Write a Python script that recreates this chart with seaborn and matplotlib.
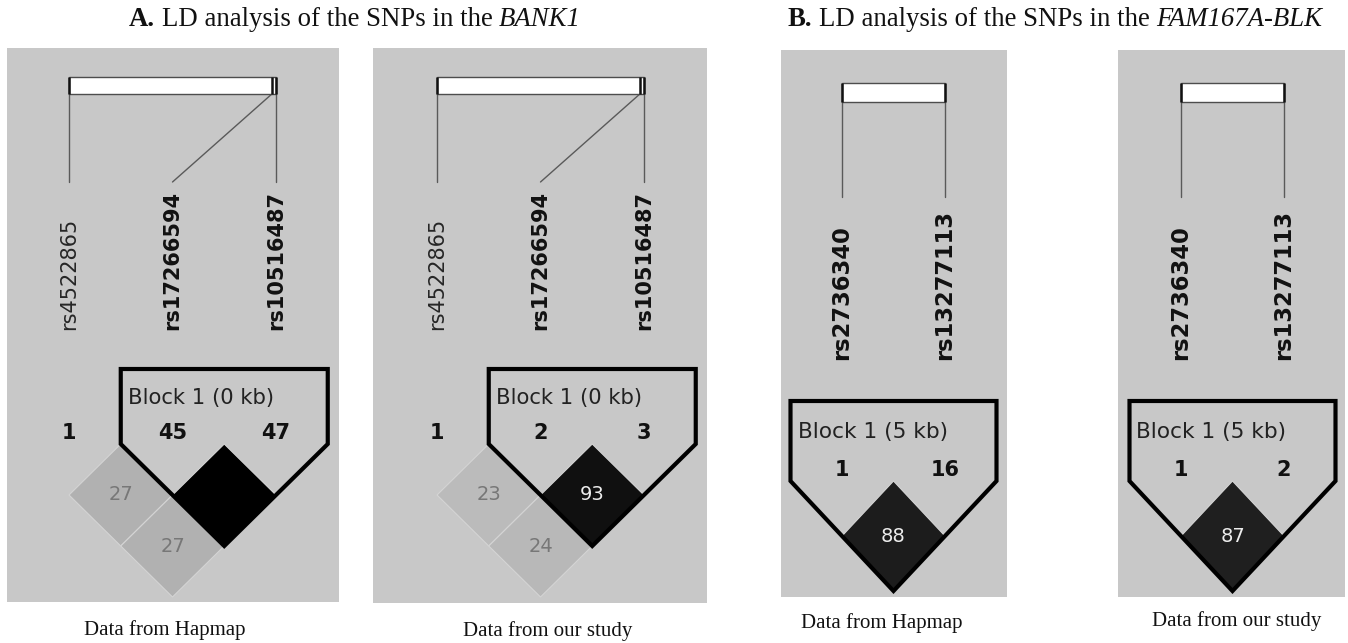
"""Haploview-style LD block plots for BANK1 and FAM167A-BLK SNPs."""

from itertools import combinations

import matplotlib.pyplot as plt
import seaborn as sns
from matplotlib.patches import Polygon, Rectangle

# ---- data -----------------------------------------------------------------
bank1_snps = ["rs4522865", "rs17266594", "rs10516487"]
bank1_in_block = [False, True, True]
bank1_map_pos = [0.0, 0.98, 1.0]  # relative position along the gene bar
bank1_hapmap_ids = ["1", "45", "47"]
bank1_study_ids = ["1", "2", "3"]
bank1_hapmap_r2 = [27, 27, 100]  # pairs (1,2), (1,3), (2,3)
bank1_study_r2 = [23, 24, 93]
bank1_block = (1, 2)
bank1_block_label = "Block 1 (0 kb)"

blk_snps = ["rs2736340", "rs13277113"]
blk_in_block = [True, True]
blk_map_pos = [0.0, 1.0]
blk_hapmap_ids = ["1", "16"]
blk_study_ids = ["1", "2"]
blk_hapmap_r2 = [88]
blk_study_r2 = [87]
blk_block = (0, 1)
blk_block_label = "Block 1 (5 kb)"

captions = ["Data from Hapmap", "Data from our study",
            "Data from Hapmap", "Data from our study"]

# ---- style ----------------------------------------------------------------
sns.set_theme(style="white")
plt.rcParams["font.family"] = ["DejaVu Sans"]
ld_cmap = sns.blend_palette(["#f2f2f2", "#000000"], as_cmap=True)

BG = "#c8c8c8"
SERIF = "Liberation Serif"

# layout of the four panels (pixel units)
geom_a = dict(bar_top=77, bar_bot=94, line_bot=182, label_bot=330,
              block_top=369, block_text_y=398, ids_y=433, y0=495, hh=51,
              step=103.5, label_size=15, block_size=15.2)
geom_b = dict(bar_top=83, bar_bot=102, line_bot=197, label_bot=360,
              block_top=401, block_text_y=432, ids_y=470, y0=536, hh=55,
              step=103, label_size=16.3, block_size=15.6)

panels = [
    dict(box=(7, 48, 339, 602), x0=69, g=geom_a, snps=bank1_snps,
         bold=bank1_in_block, pos=bank1_map_pos, ids=bank1_hapmap_ids,
         r2=bank1_hapmap_r2, block=bank1_block, label=bank1_block_label,
         cap=(165, 630)),
    dict(box=(373, 48, 707, 603), x0=437, g=geom_a, snps=bank1_snps,
         bold=bank1_in_block, pos=bank1_map_pos, ids=bank1_study_ids,
         r2=bank1_study_r2, block=bank1_block, label=bank1_block_label,
         cap=(548, 631)),
    dict(box=(781, 50, 1007, 597), x0=842, g=geom_b, snps=blk_snps,
         bold=blk_in_block, pos=blk_map_pos, ids=blk_hapmap_ids,
         r2=blk_hapmap_r2, block=blk_block, label=blk_block_label,
         cap=(882, 623)),
    dict(box=(1118, 50, 1345, 597), x0=1181, g=geom_b, snps=blk_snps,
         bold=blk_in_block, pos=blk_map_pos, ids=blk_study_ids,
         r2=blk_study_r2, block=blk_block, label=blk_block_label,
         cap=(1237, 621)),
]

fig = plt.figure(figsize=(13.48, 6.43), dpi=100)
ax = fig.add_axes([0, 0, 1, 1])
ax.set_xlim(0, 1348)
ax.set_ylim(643, 0)
ax.axis("off")


def draw_panel(ax, p, caption):
    g = p["g"]
    x1, y1, x2, y2 = p["box"]
    ax.add_patch(Rectangle((x1, y1), x2 - x1, y2 - y1, facecolor=BG,
                           edgecolor="none", zorder=0))

    n = len(p["snps"])
    xs = [p["x0"] + i * g["step"] for i in range(n)]
    hw = g["step"] / 2
    hh = g["hh"]

    # gene bar with marker ticks
    bar_w = xs[-1] - xs[0]
    ax.add_patch(Rectangle((xs[0], g["bar_top"]), bar_w,
                           g["bar_bot"] - g["bar_top"], facecolor="white",
                           edgecolor="#4d4d4d", lw=1, zorder=2))
    for xi, frac, name, bold in zip(xs, p["pos"], p["snps"], p["bold"]):
        xp = xs[0] + frac * bar_w
        ax.plot([xp, xp], [g["bar_top"], g["bar_bot"]], color="#111",
                lw=1.8, zorder=3, solid_capstyle="butt")
        ax.plot([xi, xp], [g["line_bot"], g["bar_bot"]], color="#5a5a5a",
                lw=1, zorder=1)
        ax.text(xi, g["label_bot"], name, rotation=90, rotation_mode="anchor",
                ha="left", va="center", fontsize=g["label_size"],
                weight="bold" if bold else "normal",
                color="#111" if bold else "#262626")

    # marker numbers
    for xi, mid in zip(xs, p["ids"]):
        ax.text(xi, g["ids_y"], mid, ha="center", va="center", fontsize=15,
                weight="bold", color="#111")

    # LD diamonds
    for (i, j), v in zip(combinations(range(n), 2), p["r2"]):
        cx = (xs[i] + xs[j]) / 2
        cy = g["y0"] + (j - i - 1) * hh
        ax.add_patch(Polygon([(cx, cy - hh), (cx + hw, cy), (cx, cy + hh),
                              (cx - hw, cy)], closed=True,
                             facecolor=ld_cmap(v / 100), edgecolor="#d4d4d4",
                             lw=0.8, zorder=2))
        if v < 100:
            ax.text(cx, cy, str(v), ha="center", va="center", fontsize=14,
                    color="#ececec" if v >= 50 else "#777777", zorder=4)

    # block outline
    b0, b1 = p["block"]
    xl, xr = xs[b0] - hw, xs[b1] + hw
    y0 = g["y0"]
    bottom = (xs[b0] + xs[b1]) / 2, y0 + (b1 - b0) * hh
    outline = [(xl, g["block_top"]), (xr, g["block_top"]), (xr, y0 - hh),
               (xs[b1], y0), bottom, (xs[b0], y0), (xl, y0 - hh)]
    ax.add_patch(Polygon(outline, closed=True, fill=False, edgecolor="black",
                         lw=3, joinstyle="miter", zorder=5))
    ax.text(xl + 7, g["block_text_y"], p["label"], ha="left", va="center",
            fontsize=g["block_size"], color="#222")

    ax.text(p["cap"][0], p["cap"][1], caption, ha="center", va="center",
            fontsize=15, family=SERIF, color="#111")


for p, cap in zip(panels, captions):
    draw_panel(ax, p, cap)


def rich_title(ax, x_center, y, pieces, size=19.3):
    renderer = fig.canvas.get_renderer()
    gap = 0.25 * size * 100 / 72
    texts = []
    for s, style, weight in pieces:
        t = ax.text(0, y, s, fontsize=size, family=SERIF, style=style,
                    weight=weight, ha="left", va="baseline", color="#111")
        texts.append((t, t.get_window_extent(renderer).width))
    total = sum(w for _, w in texts) + gap * (len(texts) - 1)
    x = x_center - total / 2
    for t, w in texts:
        t.set_x(x)
        x += w + gap


rich_title(ax, 355, 26, [("A.", "normal", "bold"),
                         ("LD analysis of the SNPs in the", "normal", "normal"),
                         ("BANK1", "italic", "normal")])
rich_title(ax, 1055, 26, [("B.", "normal", "bold"),
                          ("LD analysis of the SNPs in the", "normal", "normal"),
                          ("FAM167A-BLK", "italic", "normal")])

fig.savefig("out.png", dpi=100, facecolor="white")
